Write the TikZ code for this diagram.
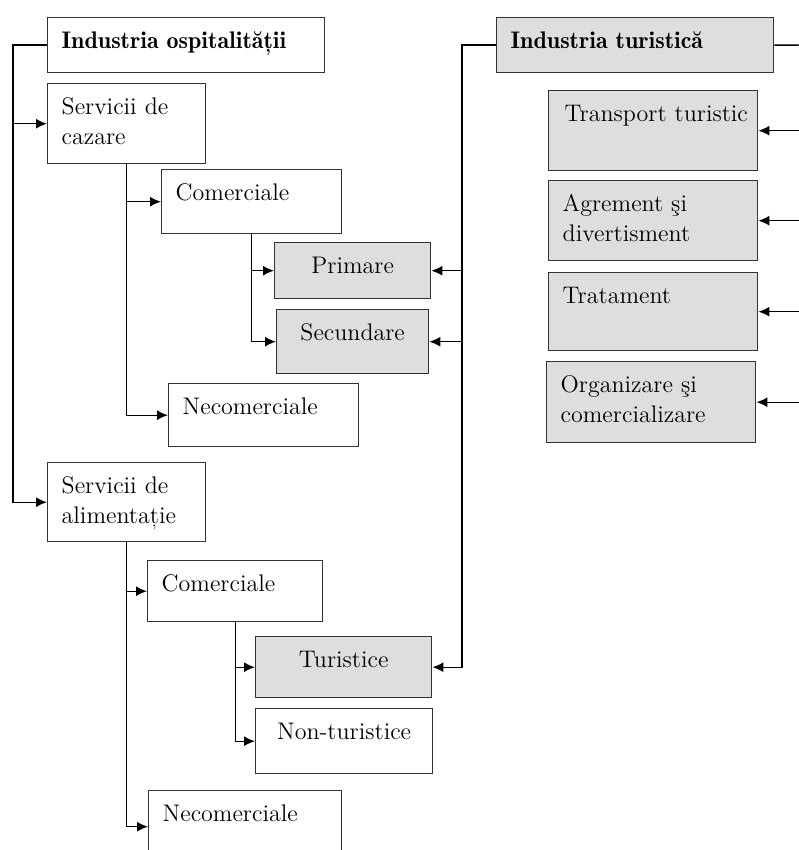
\documentclass[tikz,border=0pt]{standalone}
\usepackage{tikz}
\usetikzlibrary{arrows.meta,positioning}

\definecolor{boxgray}{HTML}{DEDEDE}
\definecolor{edge}{HTML}{333333}

\begin{document}
\begin{tikzpicture}[
    x=0.5pt, y=-0.5pt,
    unit/.style={rectangle, draw=edge, line width=0.7pt, fill=white, anchor=north west,
        align=left, inner xsep=7pt, inner ysep=0pt, text height=15.5pt,
        font=\fontsize{12}{15}\selectfont},
    tour/.style={unit, fill=boxgray},
    head/.style={font=\fontsize{12}{15}\fontseries{b}\selectfont},
    link/.style={->, >={Latex[length=5.5pt,width=5pt]}, line width=0.7pt, draw=black}
]
\useasboundingbox (0,0) rectangle (798,850);

% left branch: hospitality
\node[unit, head, text width=124.5pt, text depth=12pt] (ospit) at (47,17) {Industria ospitalității};
\node[unit, text width=65pt, text depth=24.5pt] (cazare) at (47,83) {Servicii de\\cazare};
\node[unit, text width=76pt, text depth=16.5pt] (com1) at (161,169) {Comerciale};
\node[tour, align=center, text width=64pt, text depth=12.5pt] (primare) at (274,242) {Primare};
\node[tour, align=center, text width=62pt, text depth=16.5pt] (secundare) at (276,309) {Secundare};
\node[unit, text width=81pt, text depth=16pt] (necom1) at (168,383) {Necomerciale};
\node[unit, text width=65pt, text depth=24pt] (alim) at (47,462) {Servicii de\\alimentație};
\node[unit, text width=73.5pt, text depth=15pt] (com2) at (147,560) {Comerciale};
\node[tour, align=center, text width=74pt, text depth=15pt] (turistice) at (255,636) {Turistice};
\node[unit, align=center, text width=74.5pt, text depth=17pt] (nontur) at (255,708) {Non-turistice};
\node[unit, text width=82.5pt, text depth=20.5pt] (necom2) at (148,790) {Necomerciale};

% right branch: tourism
\node[tour, head, text width=124.5pt, text depth=12pt] (turist) at (496,17) {Industria turistică};
\node[tour, inner xsep=4pt, text width=96.5pt, text depth=24.5pt] (transport) at (548,90) {\hspace*{4pt}Transport turistic};
\node[tour, text width=90.5pt, text depth=24.5pt] (agrement) at (548,180) {Agrement şi\\divertisment};
\node[tour, text width=90.5pt, text depth=23.5pt] (tratament) at (548,272) {Tratament};
\node[tour, text width=90.5pt, text depth=25pt] (organizare) at (546,361) {Organizare şi\\comercializare};

\coordinate (rim) at (806,45);

\draw[link] (ospit.west) -- ++(-17pt,0) |- (cazare.west);
\draw[link] (ospit.west) -- ++(-17pt,0) |- (alim.west);
\draw[link] (cazare.south) |- (com1.west);
\draw[link] (cazare.south) |- (necom1.west);
\draw[link] (com1.south) |- (primare.west);
\draw[link] (com1.south) |- (secundare.west);
\draw[link] (alim.south) |- (com2.west);
\draw[link] (alim.south) |- (necom2.west);
\draw[link] (com2.south) |- (turistice.west);
\draw[link] (com2.south) |- (nontur.west);

\draw[link] (turist.west) -- ++(-17pt,0) |- (primare.east);
\draw[link] (turist.west) -- ++(-17pt,0) |- (secundare.east);
\draw[link] (turist.west) -- ++(-17pt,0) |- (turistice.east);
\draw[line width=0.7pt] (turist.east) -- (rim);
\draw[link] (rim |- transport.east) -- (transport.east);
\draw[link] (rim |- agrement.east) -- (agrement.east);
\draw[link] (rim |- tratament.east) -- (tratament.east);
\draw[link] (rim |- organizare.east) -- (organizare.east);

\end{tikzpicture}
\end{document}
